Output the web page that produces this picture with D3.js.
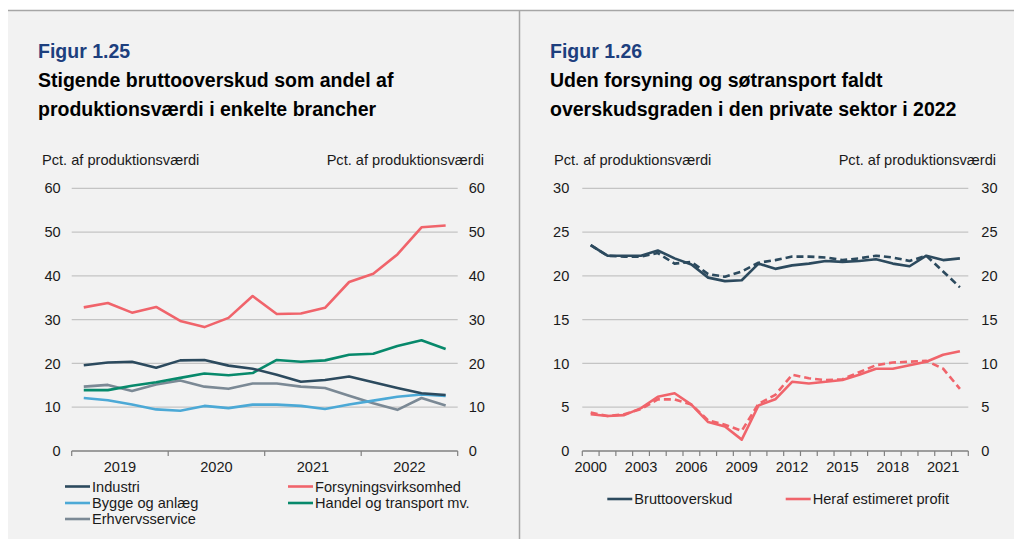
<!DOCTYPE html>
<html>
<head>
<meta charset="utf-8">
<script src="https://cdn.jsdelivr.net/npm/d3@7"></script>
<style>
  body { margin: 0; background: #fff; }
  svg { display: block; font-family: "Liberation Sans", Arial, sans-serif; }
</style>
</head>
<body>
<script>
// ---- data: figur 1.25 (quarterly, 2019K1 - 2022K4)
const quarters = ["2019K1","2019K2","2019K3","2019K4","2020K1","2020K2","2020K3","2020K4",
                  "2021K1","2021K2","2021K3","2021K4","2022K1","2022K2","2022K3","2022K4"];
const years25 = ["2019","2020","2021","2022"];
const industri      = [19.6,20.2,20.4,19.0,20.7,20.8,19.5,18.8,17.4,15.8,16.2,17.0,15.7,14.4,13.2,12.8];
const forsyning     = [32.8,33.8,31.6,32.9,29.7,28.3,30.4,35.4,31.3,31.4,32.7,38.6,40.5,44.9,51.1,51.5];
const bygge         = [12.1,11.6,10.6,9.5,9.2,10.3,9.8,10.6,10.6,10.3,9.6,10.6,11.5,12.4,12.9,12.6];
const handel        = [13.9,13.9,14.9,15.7,16.7,17.7,17.3,17.8,20.8,20.4,20.7,22.0,22.2,24.0,25.3,23.3];
const erhverv       = [14.7,15.1,13.7,15.2,16.1,14.7,14.2,15.4,15.4,14.7,14.4,12.6,10.9,9.4,12.1,10.4];
const ticks25 = [0,10,20,30,40,50,60];

// ---- data: figur 1.26 (annual 2000 - 2022)
const years26 = d3.range(2000, 2023);
const yearLabels26 = [2000,2003,2006,2009,2012,2015,2018,2021];
const brutto      = [23.5,22.3,22.3,22.3,22.9,22.0,21.3,19.8,19.4,19.5,21.4,20.8,21.2,21.4,21.7,21.6,21.7,21.9,21.4,21.1,22.3,21.8,22.0];
const bruttoEx    = [23.5,22.3,22.2,22.2,22.6,21.4,21.6,20.2,19.9,20.5,21.5,21.8,22.2,22.2,22.1,21.8,22.0,22.3,22.1,21.7,22.3,20.5,18.7];
const profit      = [4.2,4.0,4.1,4.9,6.2,6.6,5.3,3.3,2.8,1.3,5.2,5.9,7.9,7.7,7.9,8.1,8.7,9.4,9.4,9.8,10.2,11.0,11.4];
const profitEx    = [4.4,4.0,4.2,4.8,5.9,5.9,5.3,3.5,3.0,2.3,5.4,6.4,8.7,8.3,8.1,8.2,9.0,9.8,10.1,10.2,10.3,9.4,7.1];
const ticks26 = [0,5,10,15,20,25,30];

const C = {
  navy: "#2c4a5e", red: "#f0646b", green: "#07896b", lblue: "#4ca9d6", gray: "#7b8995",
  title: "#1d3f7e", grid: "#c4c4c4", axis: "#808080", text: "#1a1a1a", bg: "#f2f2f2"
};

const W = 1014, H = 539;
const svg = d3.select("body").append("svg").attr("width", W).attr("height", H);

// panels
svg.append("rect").attr("x", 8).attr("y", 10).attr("width", W - 8).attr("height", H - 10).attr("fill", C.bg);
svg.append("line").attr("x1", 8).attr("x2", W).attr("y1", 10.5).attr("y2", 10.5).attr("stroke", "#a6a6a6").attr("stroke-width", 1.5);
svg.append("line").attr("x1", 519.5).attr("x2", 519.5).attr("y1", 10).attr("y2", H).attr("stroke", "#a6a6a6").attr("stroke-width", 1.5);

function header(x0, fig, lines, unitRight) {
  svg.append("text").attr("x", x0).attr("y", 58).attr("fill", C.title)
    .attr("font-size", 19.5).attr("font-weight", "bold").text(fig);
  lines.forEach((t, i) => {
    svg.append("text").attr("x", x0).attr("y", 87 + i * 28.5).attr("fill", "#000")
      .attr("font-size", 19.5).attr("font-weight", "bold").text(t);
  });
  svg.append("text").attr("x", x0 + 4).attr("y", 165).attr("fill", C.text)
    .attr("font-size", 14.6).text("Pct. af produktionsværdi");
  svg.append("text").attr("x", unitRight).attr("y", 165).attr("fill", C.text)
    .attr("text-anchor", "end").attr("font-size", 14.6).text("Pct. af produktionsværdi");
}

function yAxes(y, ticks, x0, x1, pad) {
  const g = svg.append("g");
  g.selectAll("line.grid").data(ticks.filter(t => t > 0)).join("line")
    .attr("x1", x0).attr("x2", x1).attr("y1", d => y(d)).attr("y2", d => y(d))
    .attr("stroke", C.grid).attr("stroke-width", 1.2);
  const left = svg.append("g").attr("transform", `translate(${x0},0)`)
    .call(d3.axisLeft(y).tickValues(ticks).tickSize(0).tickPadding(pad));
  const right = svg.append("g").attr("transform", `translate(${x1},0)`)
    .call(d3.axisRight(y).tickValues(ticks).tickSize(0).tickPadding(pad));
  [left, right].forEach(a => {
    a.select(".domain").remove();
    a.selectAll("text").attr("font-size", 14.6).attr("fill", C.text).attr("font-family", null);
  });
}

function drawLine(x, y, cats, vals, color, dash) {
  const line = d3.line().x((d, i) => x(cats[i]) + x.bandwidth() / 2).y(d => y(d));
  svg.append("path").datum(vals).attr("d", line).attr("fill", "none")
    .attr("stroke", color).attr("stroke-width", 2.6).attr("stroke-linejoin", "round")
    .attr("stroke-dasharray", dash || null);
}

function legendItem(x, y, color, label) {
  svg.append("line").attr("x1", x).attr("x2", x + 25).attr("y1", y).attr("y2", y)
    .attr("stroke", color).attr("stroke-width", 2.6);
  svg.append("text").attr("x", x + 27).attr("y", y + 5).attr("font-size", 14.6)
    .attr("fill", C.text).text(label);
}

// ================= Figur 1.25
header(38, "Figur 1.25", ["Stigende bruttooverskud som andel af", "produktionsværdi i enkelte brancher"], 484);

const x25 = d3.scaleBand().domain(quarters).range([71.7, 457.7]);
const xYear25 = d3.scaleBand().domain(years25).range([71.7, 457.7]);
const y25 = d3.scaleLinear().domain([0, 60]).range([451, 188.3]);

yAxes(y25, ticks25, 71.7, 457.7, 11);

// x axis
const ax25 = svg.append("g").attr("transform", "translate(0,451)");
ax25.append("line").attr("x1", 71.7).attr("x2", 457.7).attr("stroke", C.axis).attr("stroke-width", 1.5);
ax25.selectAll("line.tk").data(years25.map(d => xYear25(d)).concat([457.7])).join("line")
  .attr("x1", d => d).attr("x2", d => d).attr("y1", 0).attr("y2", 5)
  .attr("stroke", C.axis).attr("stroke-width", 1.2);
ax25.selectAll("text").data(years25).join("text")
  .attr("x", d => xYear25(d) + xYear25.bandwidth() / 2).attr("y", 21)
  .attr("text-anchor", "middle").attr("font-size", 14.6).attr("fill", C.text).text(d => d);

drawLine(x25, y25, quarters, erhverv, C.gray);
drawLine(x25, y25, quarters, bygge, C.lblue);
drawLine(x25, y25, quarters, handel, C.green);
drawLine(x25, y25, quarters, industri, C.navy);
drawLine(x25, y25, quarters, forsyning, C.red);

legendItem(65, 486.5, C.navy, "Industri");
legendItem(65, 503, C.lblue, "Bygge og anlæg");
legendItem(65, 519, C.gray, "Erhvervsservice");
legendItem(288, 486.5, C.red, "Forsyningsvirksomhed");
legendItem(288, 503, C.green, "Handel og transport mv.");

// ================= Figur 1.26
header(550, "Figur 1.26", ["Uden forsyning og søtransport faldt", "overskudsgraden i den private sektor i 2022"], 996);

const x26 = d3.scaleBand().domain(years26).range([582.3, 968.3]);
const y26 = d3.scaleLinear().domain([0, 30]).range([451, 188.3]);

yAxes(y26, ticks26, 582.3, 968.3, 13);

const ax26 = svg.append("g").attr("transform", "translate(0,451)");
ax26.append("line").attr("x1", 582.3).attr("x2", 968.3).attr("stroke", C.axis).attr("stroke-width", 1.5);
ax26.selectAll("line.tk").data(years26.map(d => x26(d)).concat([968.3])).join("line")
  .attr("x1", d => d).attr("x2", d => d).attr("y1", 0).attr("y2", 5)
  .attr("stroke", C.axis).attr("stroke-width", 1.2);
ax26.selectAll("text").data(yearLabels26).join("text")
  .attr("x", d => x26(d) + x26.bandwidth() / 2).attr("y", 21)
  .attr("text-anchor", "middle").attr("font-size", 14.6).attr("fill", C.text).text(d => d);

drawLine(x26, y26, years26, bruttoEx, C.navy, "7,4");
drawLine(x26, y26, years26, profitEx, C.red, "7,4");
drawLine(x26, y26, years26, brutto, C.navy);
drawLine(x26, y26, years26, profit, C.red);

legendItem(607.3, 499, C.navy, "Bruttooverskud");
legendItem(785.7, 499, C.red, "Heraf estimeret profit");
</script>
</body>
</html>
